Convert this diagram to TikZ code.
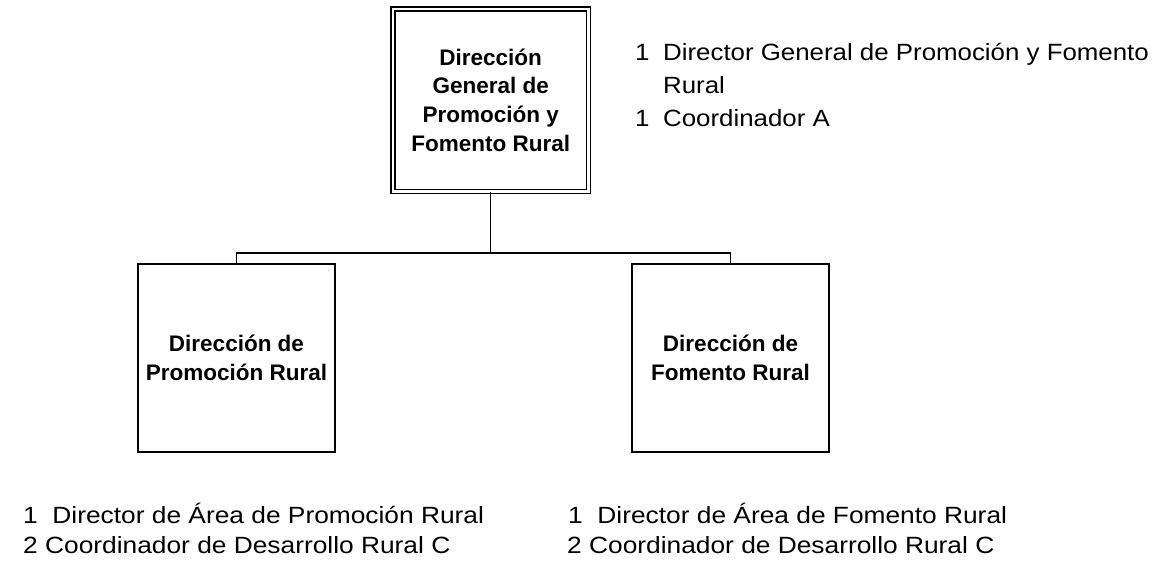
\documentclass[tikz,border=0pt]{standalone}
\usepackage{fontspec}
\setmainfont{Liberation Sans}
\newfontfamily\regfont[FakeStretch=1.1]{Liberation Sans}
\newfontfamily\regfontb[FakeStretch=1.12]{Liberation Sans}
\begin{document}
\begin{tikzpicture}[x=1pt,y=-1pt,
  box/.style={draw, line width=1.3pt, align=center, inner sep=0pt,
    font=\fontsize{22.5}{28.7}\selectfont\bfseries},
  topbox/.style={box, double, double distance=2.6pt},
  lbl/.style={anchor=base west, inner sep=0pt, font=\regfont\fontsize{23.5}{30}\selectfont},
  lblb/.style={anchor=base west, inner sep=0pt, font=\regfontb\fontsize{23.5}{30}\selectfont},
  wire/.style={line width=1.5pt}]
\useasboundingbox (0,0) rectangle (1169,560);
\node[topbox, minimum width=195.5pt, minimum height=182.5pt] (dg) at (490.7,100.2)
  {Dirección\\General de\\Promoción y\\Fomento Rural};
\node[box, minimum width=197pt, minimum height=188pt] (dp) at (236.5,358)
  {Dirección de\\Promoción Rural};
\node[box, minimum width=197pt, minimum height=188pt] (df) at (730.5,358)
  {Dirección de\\Fomento Rural};
\coordinate (bus) at (490.7,253);
\draw[wire] (dg.south) -- (bus);
\draw[wire] (dp.north) |- (bus) -| (df.north);
\node[lbl] (n1) at (635,60) {1};
\node[lbl] (t1) at (663,60) {Director General de Promoción y Fomento};
\node[lbl] (t1b) at (663,93) {Rural};
\node[lbl] (n2) at (635,126) {1};
\node[lbl] (t2) at (663,126) {Coordinador A};
\node[lblb] (b1) at (23,523) {1\ \ Director de Área de Promoción Rural};
\node[lblb] (b2) at (23,553) {2 Coordinador de Desarrollo Rural C};
\node[lblb] (b3) at (568,523) {1\ \ Director de Área de Fomento Rural};
\node[lblb] (b4) at (567,553) {2 Coordinador de Desarrollo Rural C};
\end{tikzpicture}
\end{document}
